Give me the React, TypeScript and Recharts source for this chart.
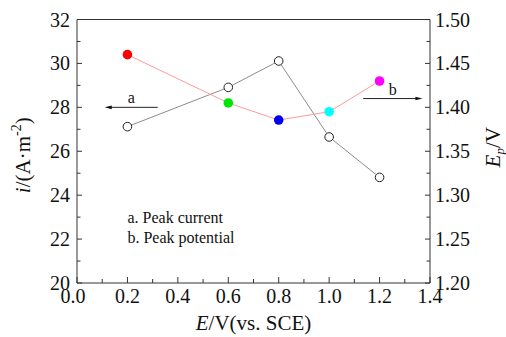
import React from 'react';
import { LineChart, Line, XAxis, YAxis, ReferenceLine, ReferenceDot } from 'recharts';

const potentials = [0.2, 0.6, 0.8, 1.0, 1.2];
const peakCurrent = [27.12, 28.91, 30.11, 26.65, 24.81];
const peakPotential = [1.46, 1.405, 1.3855, 1.395, 1.43];
const potentialColors = ['#ff0000', '#00e600', '#0000ee', '#00ffff', '#ff00ff'];

const xTicks = [0, 0.1, 0.2, 0.3, 0.4, 0.5, 0.6, 0.7, 0.8, 0.9, 1.0, 1.1, 1.2, 1.3, 1.4];
const xMajor = [0, 0.2, 0.4, 0.6, 0.8, 1.0, 1.2, 1.4];
const leftTicks = [20, 21, 22, 23, 24, 25, 26, 27, 28, 29, 30, 31, 32];
const leftMajor = [20, 22, 24, 26, 28, 30, 32];
const rightTicks = [1.2, 1.225, 1.25, 1.275, 1.3, 1.325, 1.35, 1.375, 1.4, 1.425, 1.45, 1.475, 1.5];
const rightMajor = [1.2, 1.25, 1.3, 1.35, 1.4, 1.45, 1.5];

const legendLines = ['a. Peak current', 'b. Peak potential'];
const legendX = 0.2;
const legendY = [22.73, 21.82];
const arrowA = { from: 0.32, to: 0.11, y: 28, label: 'a' };
const arrowB = { from: 1.135, to: 1.37, y: 1.41, label: 'b' };

const data = potentials.map((x, i) => ({ x, a: peakCurrent[i], b: peakPotential[i] }));

const FONT = '"Liberation Serif"';
const fontStyle = { fontFamily: FONT };
const AXIS = '#333';

const isMajor = (list: number[], v: number) => list.some((m) => Math.abs(m - v) < 1e-6);

const XTick = (props: any) => {
  const { x, y, payload } = props;
  const v = payload.value;
  const major = isMajor(xMajor, v);
  return (
    <g>
      <line x1={x} x2={x} y1={y} y2={y - (major ? 6 : 4)} stroke={AXIS} strokeWidth={1} />
      {major && (
        <text x={x + (v === 0 ? -4 : 0)} y={y + 20} textAnchor="middle" style={fontStyle} fontSize={20} fill="#111">
          {v.toFixed(1)}
        </text>
      )}
    </g>
  );
};

const LeftTick = (props: any) => {
  const { x, y, payload } = props;
  const v = payload.value;
  const major = isMajor(leftMajor, v);
  return (
    <g>
      <line x1={x} x2={x + (major ? 5 : 3.5)} y1={y} y2={y} stroke={AXIS} strokeWidth={1} />
      {major && (
        <text x={x - 7} y={y + 7} textAnchor="end" style={fontStyle} fontSize={20} fill="#111">
          {v}
        </text>
      )}
    </g>
  );
};

const RightTick = (props: any) => {
  const { x, y, payload } = props;
  const v = payload.value;
  const major = isMajor(rightMajor, v);
  return (
    <g>
      <line x1={x} x2={x - (major ? 5 : 3.5)} y1={y} y2={y} stroke={AXIS} strokeWidth={1} />
      {major && (
        <text x={x + 5} y={y + 7} textAnchor="start" style={fontStyle} fontSize={20} fill="#111">
          {v.toFixed(2)}
        </text>
      )}
    </g>
  );
};

const arrowShape = (label: string) => (props: any) => {
  const { x1, y1, x2, y2 } = props;
  const dir = x2 > x1 ? 1 : -1;
  const len = 7;
  const hw = 1.8;
  return (
    <g>
      <line x1={x1} y1={y1} x2={x2 - dir * len * 0.6} y2={y2} stroke="#222" strokeWidth={1} />
      <polygon points={`${x2},${y2} ${x2 - dir * len},${y2 - hw} ${x2 - dir * len},${y2 + hw}`} fill="#111" />
      <text x={(x1 + x2) / 2} y={y1 - 4} textAnchor="middle" style={fontStyle} fontSize={16} fill="#111">
        {label}
      </text>
    </g>
  );
};

const OpenDot = (props: any) => {
  const { cx, cy, index } = props;
  return <circle key={`a-${index}`} cx={cx} cy={cy} r={4.3} fill="#fff" stroke="#222" strokeWidth={1} />;
};

const ColorDot = (props: any) => {
  const { cx, cy, index } = props;
  return <circle key={`b-${index}`} cx={cx} cy={cy} r={4.8} fill={potentialColors[index]} stroke="none" />;
};

const legendShape = (text: string) => (props: any) => (
  <text x={props.cx} y={props.cy} style={fontStyle} fontSize={16} fill="#111">
    {text}
  </text>
);

export default function App() {
  return (
    <div style={{ position: 'absolute', left: 0, top: 0, width: 506, height: 337, background: '#fff' }}>
      <LineChart
        width={506}
        height={337}
        data={data}
        margin={{ top: 19.5, right: 0, bottom: 0, left: 0 }}
      >
        <XAxis
          dataKey="x"
          type="number"
          domain={[0, 1.4]}
          ticks={xTicks}
          interval={0}
          height={54}
          tickSize={0}
          tickMargin={0}
          tickLine={false}
          axisLine={{ stroke: AXIS, strokeWidth: 1 }}
          tick={<XTick />}
          label={{
            content: (p: any) => {
              const vb = p.viewBox;
              return (
                <text x={vb.x + vb.width / 2} y={vb.y + 47} textAnchor="middle" style={fontStyle} fontSize={21} fill="#111">
                  <tspan fontStyle="italic">E</tspan>
                  <tspan>/V(vs. SCE)</tspan>
                </text>
              );
            },
          }}
        />
        <YAxis
          yAxisId="left"
          type="number"
          domain={[20, 32]}
          ticks={leftTicks}
          interval={0}
          width={77}
          tickSize={0}
          tickMargin={0}
          tickLine={false}
          axisLine={{ stroke: AXIS, strokeWidth: 1 }}
          tick={<LeftTick />}
          label={{
            content: (p: any) => {
              const vb = p.viewBox;
              const cx = vb.x + 30;
              const cy = vb.y + vb.height / 2 + 4;
              return (
                <text x={cx} y={cy} transform={`rotate(-90 ${cx} ${cy})`} textAnchor="middle" style={fontStyle} fontSize={21} fill="#111">
                  <tspan fontStyle="italic">i</tspan>
                  <tspan>/(A·m</tspan>
                  <tspan dy={-9} fontSize={14}>-2</tspan>
                  <tspan dy={9}>)</tspan>
                </text>
              );
            },
          }}
        />
        <YAxis
          yAxisId="right"
          orientation="right"
          type="number"
          domain={[1.2, 1.5]}
          ticks={rightTicks}
          interval={0}
          width={76}
          tickSize={0}
          tickMargin={0}
          tickLine={false}
          axisLine={{ stroke: AXIS, strokeWidth: 1 }}
          tick={<RightTick />}
          label={{
            content: (p: any) => {
              const vb = p.viewBox;
              const cx = vb.x + 70;
              const cy = vb.y + vb.height / 2 - 4;
              return (
                <text x={cx} y={cy} transform={`rotate(-90 ${cx} ${cy})`} textAnchor="middle" style={fontStyle} fontSize={21} fill="#111">
                  <tspan fontStyle="italic">E</tspan>
                  <tspan dy={4} fontSize={13} fontStyle="italic">p</tspan>
                  <tspan dy={-4}>/V</tspan>
                </text>
              );
            },
          }}
        />
        <ReferenceLine yAxisId="left" y={32} stroke={AXIS} strokeWidth={1} />
        <Line
          yAxisId="left"
          dataKey="a"
          stroke="#8c8c8c"
          strokeWidth={1}
          dot={<OpenDot />}
          activeDot={false}
          isAnimationActive={false}
        />
        <Line
          yAxisId="right"
          dataKey="b"
          stroke="#ff9a9a"
          strokeWidth={1}
          dot={<ColorDot />}
          activeDot={false}
          isAnimationActive={false}
        />
        <ReferenceLine
          yAxisId="left"
          segment={[{ x: arrowA.from, y: arrowA.y }, { x: arrowA.to, y: arrowA.y }]}
          shape={arrowShape(arrowA.label)}
        />
        <ReferenceLine
          yAxisId="right"
          segment={[{ x: arrowB.from, y: arrowB.y }, { x: arrowB.to, y: arrowB.y }]}
          shape={arrowShape(arrowB.label)}
        />
        {legendLines.map((t, i) => (
          <ReferenceDot key={t} yAxisId="left" x={legendX} y={legendY[i]} r={0} shape={legendShape(t)} />
        ))}
      </LineChart>
    </div>
  );
}
